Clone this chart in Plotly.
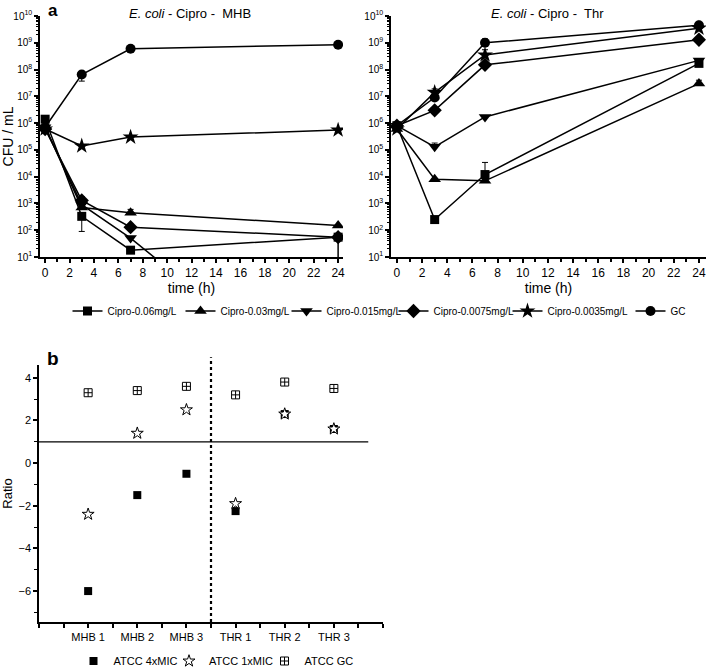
import plotly.graph_objects as go

# ---------------- data ----------------
times = [0, 3, 7, 24]
series_names = ["Cipro-0.06mg/L", "Cipro-0.03mg/L", "Cipro-0.015mg/L",
                "Cipro-0.0075mg/L", "Cipro-0.0035mg/L", "GC"]
series_symbols = ["square", "triangle-up", "triangle-down", "diamond", "star", "circle"]

# MHB panel (CFU/mL)
mhb_006 = [1.4e6, 3.3e2, 18, 55]
mhb_003 = [7e5, 7e2, 4.5e2, 1.5e2]
mhb_0015 = [7e5, 9e2, 51, 2.5e-5]
mhb_00075 = [6e5, 1.3e3, 1.3e2, 55]
mhb_00035 = [6e5, 1.4e5, 3e5, 5.5e5]
mhb_gc = [7e5, 6.5e7, 6e8, 8.5e8]
mhb_err_plus = [[0, 0, 0, 0], [0, 0, 1.5e2, 0], [0, 0, 0, 0],
                [0, 5e2, 0, 0], [0, 0, 0, 0], [0, 0, 0, 1e8]]
mhb_err_minus = [[0, 2.4e2, 0, 54], [0, 0, 0, 0], [0, 0, 0, 0],
                 [0, 0, 0, 54], [0, 0, 0, 0], [0, 2.8e7, 0, 0]]

# Thr panel (CFU/mL)
thr_006 = [8e5, 2.5e2, 1.2e4, 1.7e8]
thr_003 = [6e5, 8e3, 7e3, 3e7]
thr_0015 = [8e5, 1.3e5, 1.7e6, 2.2e8]
thr_00075 = [8e5, 3e6, 1.5e8, 1.3e9]
thr_00035 = [6e5, 1.4e7, 3.5e8, 3.5e9]
thr_gc = [8e5, 9e6, 1e9, 4.5e9]
thr_err_plus = [[0, 0, 2.2e4, 0], [0, 0, 0, 1e7], [0, 5e4, 0, 0],
                [0, 0, 0, 0], [0, 5e6, 2e8, 0], [0, 0, 4e8, 0]]
thr_err_minus = [[0, 0, 0, 0], [0, 0, 0, 0], [0, 0, 0, 0],
                 [0, 0, 0, 0], [0, 0, 0, 0], [0, 0, 0, 0]]

mhb_series = [mhb_006, mhb_003, mhb_0015, mhb_00075, mhb_00035, mhb_gc]
thr_series = [thr_006, thr_003, thr_0015, thr_00075, thr_00035, thr_gc]

# Ratio panel
ratio_categories = ["MHB 1", "MHB 2", "MHB 3", "THR 1", "THR 2", "THR 3"]
atcc_4xmic = [-6.0, -1.5, -0.5, -2.25, 2.3, 1.6]
atcc_1xmic = [-2.4, 1.4, 2.5, -1.9, 2.3, 1.6]
atcc_gc = [3.3, 3.4, 3.6, 3.2, 3.8, 3.5]
ratio_reference = 1
medium_boundary = 2.5

y_decades = list(range(1, 11))
x_ticks = list(range(0, 25, 2))

# ---------------- figure ----------------
FONT = "Arial, Liberation Sans, sans-serif"
W, H = 706, 669
fig = go.Figure()

sizes = {"square": 9, "triangle-up": 11, "triangle-down": 11, "diamond": 11,
         "star": 12, "circle": 10}
top_legend_ids = ["legend", "legend2", "legend3", "legend4", "legend5", "legend6"]
top_legend_marker_px = [87, 200, 306, 413, 527, 650]

for i, (name, sym) in enumerate(zip(series_names, series_symbols)):
    msize = sizes[sym]
    fig.add_trace(go.Scatter(
        x=times, y=mhb_series[i], name=name, mode="lines+markers",
        line=dict(color="black", width=1.5),
        marker=dict(symbol=sym, size=msize, color="black"),
        error_y=dict(type="data", symmetric=False, array=mhb_err_plus[i],
                     arrayminus=mhb_err_minus[i], color="black", thickness=1, width=3),
        xaxis="x", yaxis="y", legend=top_legend_ids[i], showlegend=True))
    fig.add_trace(go.Scatter(
        x=times, y=thr_series[i], name=name, mode="lines+markers",
        line=dict(color="black", width=1.5),
        marker=dict(symbol=sym, size=msize, color="black"),
        error_y=dict(type="data", symmetric=False, array=thr_err_plus[i],
                     arrayminus=thr_err_minus[i], color="black", thickness=1, width=3),
        xaxis="x2", yaxis="y2", showlegend=False))

xpos = list(range(len(ratio_categories)))
fig.add_trace(go.Scatter(x=xpos, y=atcc_4xmic, name="ATCC 4xMIC", mode="markers",
                         marker=dict(symbol="square", size=8, color="black"),
                         xaxis="x3", yaxis="y3", legend="legend7"))
fig.add_trace(go.Scatter(x=xpos, y=atcc_1xmic, name="ATCC 1xMIC", mode="markers",
                         marker=dict(symbol="star", size=9, color="white",
                                     line=dict(color="black", width=1)),
                         xaxis="x3", yaxis="y3", legend="legend7"))
fig.add_trace(go.Scatter(x=xpos, y=atcc_gc, name="ATCC GC", mode="markers",
                         marker=dict(symbol="square-cross-open", size=8, color="black",
                                     line=dict(width=1)),
                         xaxis="x3", yaxis="y3", legend="legend7"))

top_y_dom = [(H - 257) / H, (H - 16) / H]

common_x = dict(showline=True, linecolor="black", linewidth=1.5, ticks="outside",
                ticklen=4, tickwidth=1.5, tickcolor="black", tickvals=x_ticks,
                minor=dict(ticks="outside", dtick=1, ticklen=3, tickwidth=1.5, tickcolor="black"),
                showgrid=False, zeroline=False,
                tickfont=dict(family=FONT, size=12, color="black"),
                title=dict(text="time (h)", font=dict(family=FONT, size=14, color="black"),
                           standoff=4))
common_y = dict(type="log", range=[1, 10], showline=True, linecolor="black", linewidth=1.5,
                ticks="outside", ticklen=4, tickwidth=1.5, tickcolor="black",
                tickvals=[10 ** d for d in y_decades],
                ticktext=["10<sup>%d</sup>" % d for d in y_decades],
                minor=dict(ticks="outside", dtick="D1", ticklen=2, tickwidth=1, tickcolor="black"),
                showgrid=False, zeroline=False,
                tickfont=dict(family=FONT, size=10, color="black"))

layout_legends = {}
for lid, mx in zip(top_legend_ids, top_legend_marker_px):
    layout_legends[lid] = dict(orientation="h", x=(mx - 19.5) / W, y=(H - 311) / H,
                               xanchor="left", yanchor="middle",
                               font=dict(family=FONT, size=10, color="black"),
                               bgcolor="rgba(0,0,0,0)")
layout_legends["legend7"] = dict(orientation="h", x=73.5 / W, y=(H - 661) / H,
                                 xanchor="left", yanchor="middle",
                                 font=dict(family=FONT, size=11, color="black"),
                                 entrywidth=50.5, entrywidthmode="pixels",
                                 bgcolor="rgba(0,0,0,0)")

fig.update_layout(
    width=W, height=H, margin=dict(l=0, r=0, t=0, b=0, autoexpand=False),
    paper_bgcolor="white", plot_bgcolor="white",
    font=dict(family=FONT, color="black"),
    xaxis=dict(domain=[40 / W, 343 / W], range=[-0.42, 24.4], anchor="y", **common_x),
    yaxis=dict(domain=top_y_dom, anchor="x",
               title=dict(text="CFU / mL", font=dict(family=FONT, size=14, color="black"),
                          standoff=2),
               **common_y),
    xaxis2=dict(domain=[391 / W, 1.0], range=[-0.47, 24.56], anchor="y2", **common_x),
    yaxis2=dict(domain=top_y_dom, anchor="x2", **common_y),
    xaxis3=dict(domain=[39 / W, 383 / W], range=[-1, 6], anchor="y3",
                tickvals=xpos, ticktext=ratio_categories,
                showline=True, linecolor="black", linewidth=1.5, ticks="outside",
                ticklen=4, tickwidth=1.5, tickcolor="black",
                minor=dict(ticks="outside", dtick=0.5, tick0=-1, ticklen=4, tickwidth=1.5,
                           tickcolor="black"),
                showgrid=False, zeroline=False,
                tickfont=dict(family=FONT, size=11, color="black")),
    yaxis3=dict(domain=[(H - 622) / H, (H - 365) / H], range=[-7.45, 4.6], anchor="x3",
                tickvals=[-6, -4, -2, 0, 2, 4],
                showline=True, linecolor="black", linewidth=1.5, ticks="outside",
                ticklen=4, tickwidth=1.5, tickcolor="black",
                minor=dict(ticks="outside", dtick=1, ticklen=3, tickwidth=1, tickcolor="black"),
                showgrid=False, zeroline=False,
                tickfont=dict(family=FONT, size=11, color="black"),
                title=dict(text="Ratio", font=dict(family=FONT, size=13, color="black"),
                           standoff=6)),
    showlegend=True,
    **layout_legends,
)

# reference lines in ratio panel
xr = fig.layout.xaxis3.range
fig.add_shape(type="line", xref="x3", yref="y3", x0=xr[0], x1=5.7,
              y0=ratio_reference, y1=ratio_reference, line=dict(color="black", width=1.2))
bx = (medium_boundary - xr[0]) / (xr[1] - xr[0])
fig.add_shape(type="line", xref="x3 domain", yref="y3 domain", x0=bx, x1=bx, y0=0, y1=1.03,
              line=dict(color="black", width=2.2, dash="dot"))

# titles & panel letters
def label(text, px, py, size):
    fig.add_annotation(text=text, x=px / W, y=(H - py) / H, xref="paper", yref="paper",
                       xanchor="center", yanchor="middle", showarrow=False,
                       font=dict(family=FONT, size=size, color="black"))

label("<i>E. coli</i> - Cipro -  MHB", 190, 13, 13)
label("<i>E. coli</i> - Cipro -  Thr", 547, 14, 13)
label("<b>a</b>", 53, 10, 17)
label("<b>b</b>", 53, 359, 19)

fig.write_html("out.html", config={"displayModeBar": False},
               post_script="document.body.style.margin='0px';document.body.style.overflow='hidden';")
